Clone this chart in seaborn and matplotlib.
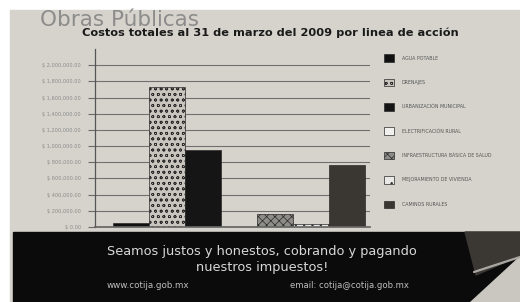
import matplotlib
matplotlib.use("Agg")
import matplotlib.pyplot as plt
import pandas as pd
import seaborn as sns
from matplotlib.patches import Polygon, Rectangle
from matplotlib.ticker import FixedLocator

# Costos por linea de accion
lineas = [
    "AGUA POTABLE",
    "DRENAJES",
    "URBANIZACIÓN MUNICIPAL",
    "ELECTRIFICACIÓN RURAL",
    "INFRAESTRUCTURA BÁSICA DE SALUD",
    "MEJORAMIENTO DE VIVIENDA",
    "CAMINOS RURALES",
]
costos = [55000, 1730000, 955000, 0, 157000, 40000, 762000]
colores = ["#111111", "#c8c5be", "#151515", "#f1f0ec", "#8e8c87", "#e9e8e4", "#3a3631"]
tramas = ["", "ooo", "", "", "xxxx", "..", ""]
marcas_y = [0, 200000, 400000, 600000, 800000, 1000000,
            1200000, 1400000, 1600000, 1800000, 2000000]

PAPEL = "#d5d3cc"

sns.set_theme(style="white")
plt.rcParams["font.family"] = ["DejaVu Sans"]
plt.rcParams["hatch.color"] = "#555555"
plt.rcParams["hatch.linewidth"] = 0.5

df = pd.DataFrame({"grupo": ["total"] * len(lineas), "linea": lineas, "costo": costos})

fig = plt.figure(figsize=(5.2, 3.02), dpi=100, facecolor="white")
fig.patches.append(Rectangle((10 / 520, 0), 1, 1 - 10 / 302, transform=fig.transFigure,
                             color=PAPEL, zorder=-5))

ax = fig.add_axes([95 / 520, 1 - 227 / 302, 275 / 520, 178 / 302])
ax.set_facecolor(PAPEL)
sns.barplot(data=df, x="grupo", y="costo", hue="linea", palette=colores, saturation=1,
            width=0.8, edgecolor="#2a2a2a", linewidth=0.5, legend=False, ax=ax)
for cont, trama in zip(ax.containers, tramas):
    for barra in cont.patches:
        barra.set_hatch(trama)

ax.set_xlim(-0.457, 0.416)
ax.set_ylim(0, 2200000)
ax.yaxis.set_major_locator(FixedLocator(marcas_y))
ax.set_yticklabels(["$ {:,.2f}".format(v) for v in marcas_y])
ax.tick_params(axis="y", labelsize=3.6, labelcolor="#8a8a8a", length=5, width=0.8,
               color="#6a6a6a", pad=5, left=True)
ax.tick_params(axis="x", bottom=False, labelbottom=False)
ax.set_xlabel("")
ax.set_ylabel("")
ax.yaxis.grid(True, color="#707070", linewidth=0.8)
ax.set_axisbelow(True)
for lado in ["top", "right"]:
    ax.spines[lado].set_visible(False)
ax.spines["left"].set_color("#555555")
ax.spines["bottom"].set_color("#666666")
ax.spines["left"].set_linewidth(0.9)

manijas = [c.patches[0] for c in ax.containers]
fig.legend(manijas, lineas, loc="upper left", bbox_to_anchor=(382 / 520, 1 - 52 / 302),
           frameon=False, fontsize=3.4, labelcolor="#555555", handlelength=2.1,
           handleheight=2.1, labelspacing=3.55, handletextpad=1.6, borderpad=0)

fig.text(40 / 520, 1 - 19.5 / 302, "Obras Públicas", fontsize=15.5, color="#8c8c8c",
         va="center", ha="left")
fig.text(270 / 520, 1 - 33 / 302, "Costos totales al 31 de marzo del 2009 por linea de acción",
         fontsize=8.2, fontweight="bold", color="#1a1a1a", ha="center", va="center")

# franja inferior con mensaje
fig.patches.append(Rectangle((13 / 520, 0), 1, (302 - 232) / 302, transform=fig.transFigure,
                             color="#0b0b0b", zorder=1))
fig.patches.append(Polygon([(465 / 520, 1 - 232 / 302), (1, 1 - 232 / 302), (1, 1 - 256 / 302),
                            (476 / 520, 1 - 275 / 302)], closed=True, transform=fig.transFigure,
                           color="#3b3732", zorder=2))
fig.patches.append(Polygon([(470 / 520, 0), (1, 0), (1, 1 - 256 / 302)], closed=True,
                           transform=fig.transFigure, color="#c9c7c0", zorder=2))
fig.lines.append(plt.Line2D([474 / 520, 1], [1 - 272 / 302, 1 - 257 / 302],
                            transform=fig.transFigure, color="#a9a7a2", linewidth=1.6, zorder=3))

fig.text(262 / 520, 1 - 252 / 302, "Seamos justos y honestos, cobrando y pagando",
         fontsize=9.3, color="#d8d8d8", ha="center", va="center", zorder=4)
fig.text(262 / 520, 1 - 267 / 302, "nuestros impuestos!", fontsize=9.3, color="#d8d8d8",
         ha="center", va="center", zorder=4)
fig.text(107 / 520, 1 - 285 / 302, "www.cotija.gob.mx", fontsize=6.3, color="#bdbdbd",
         ha="left", va="center", zorder=4)
fig.text(290 / 520, 1 - 285 / 302, "email: cotija@cotija.gob.mx", fontsize=6.1, color="#bdbdbd",
         ha="left", va="center", zorder=4)

fig.savefig("out.png", dpi=100, facecolor=fig.get_facecolor())
